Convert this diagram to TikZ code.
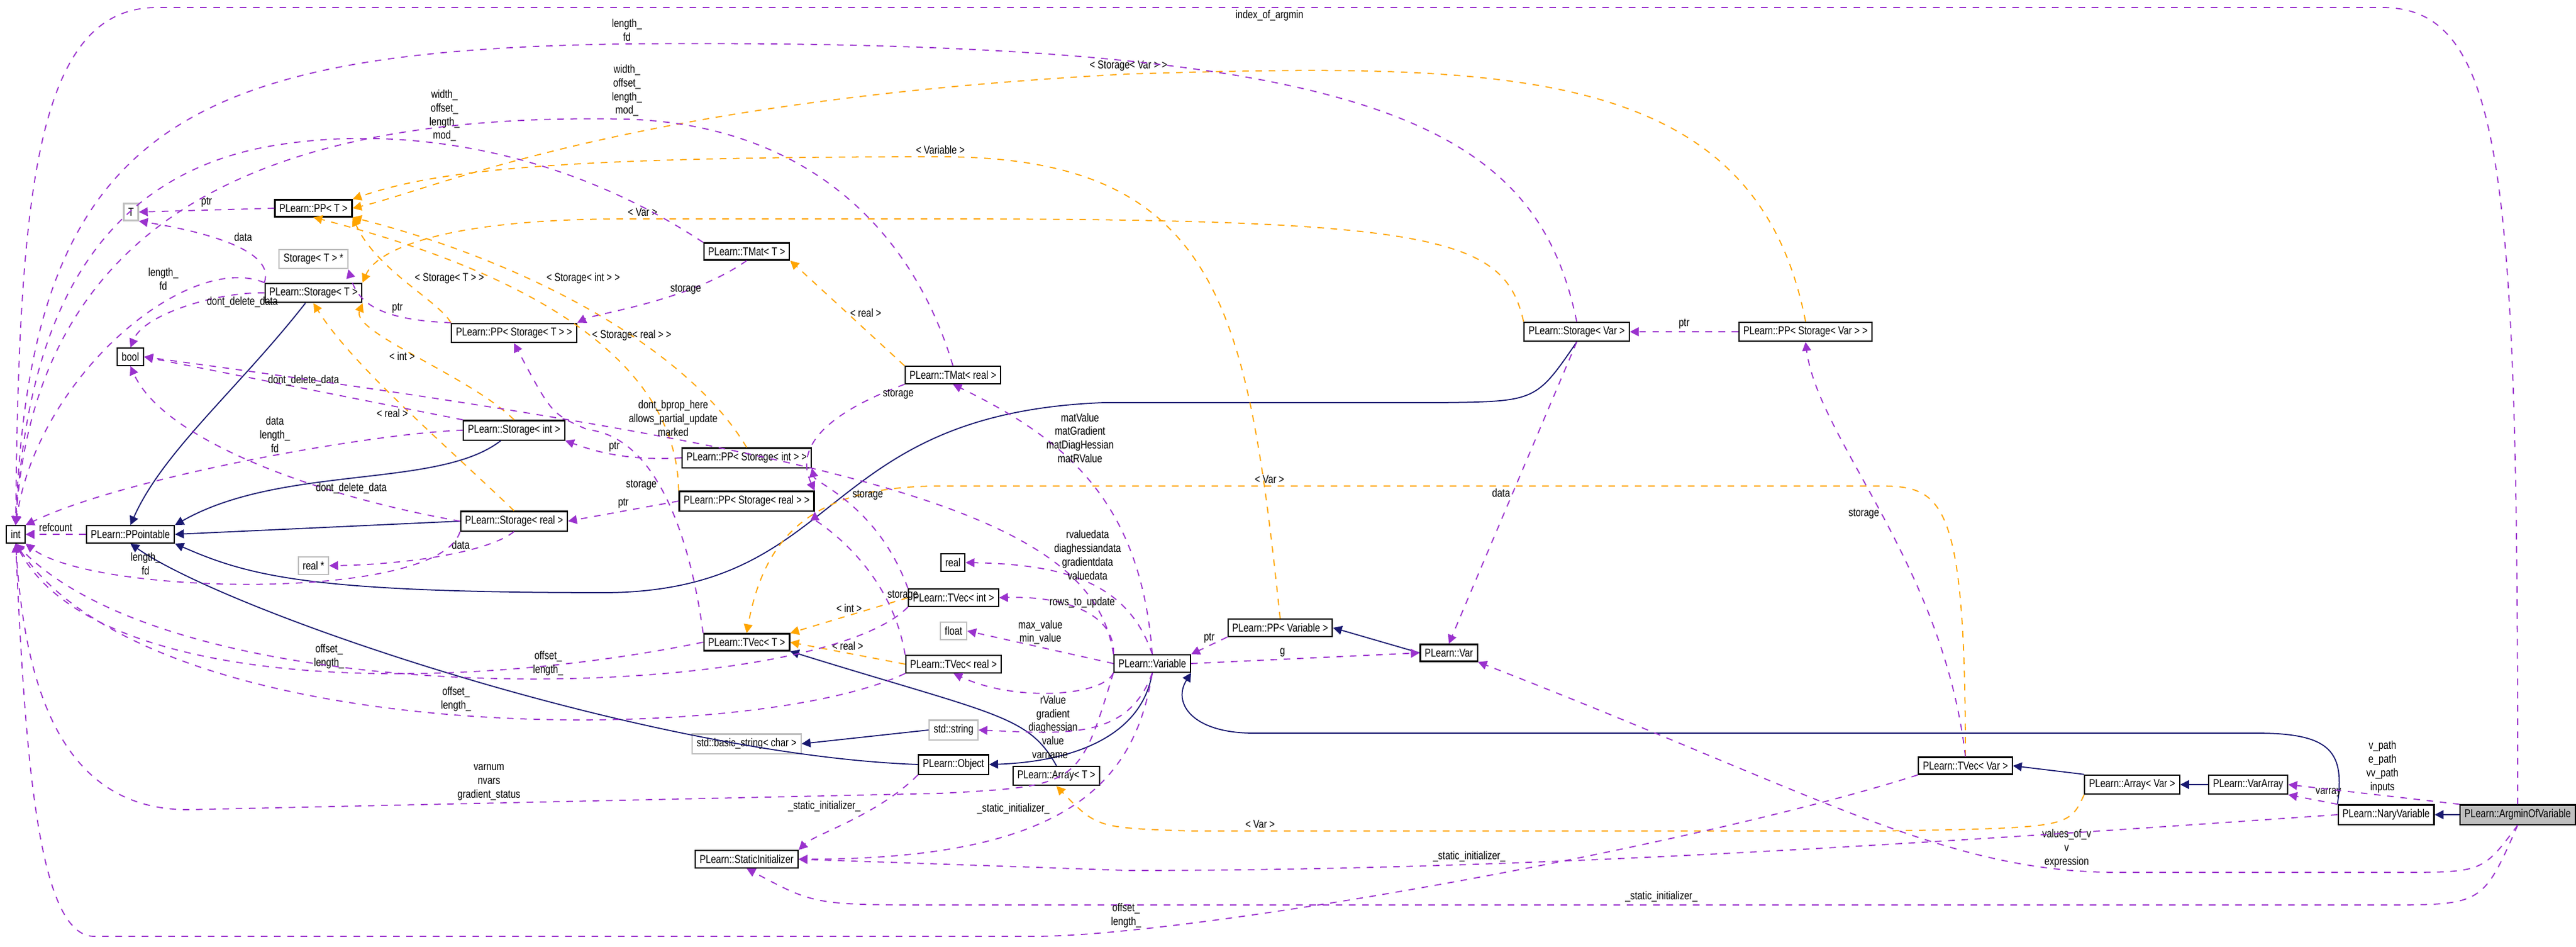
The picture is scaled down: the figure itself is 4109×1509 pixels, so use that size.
\documentclass[tikz,border=0pt]{standalone}
\usepackage{fontspec}
\newfontfamily\dotfont[FakeStretch=0.8]{Liberation Sans}
\usetikzlibrary{arrows.meta}
\definecolor{dxPurple}{RGB}{154,50,205}
\definecolor{dxOrange}{RGB}{255,165,0}
\definecolor{dxNavy}{RGB}{25,25,112}
\definecolor{dxGrey}{RGB}{191,191,191}
\tikzset{
  cls/.style={draw=black, line width=0.6pt, fill=white, inner sep=2pt, minimum height=0.27cm, font=\dotfont\fontsize{5.2}{6.2}\selectfont},
  ext/.style={cls, draw=dxGrey},
  mem/.style={draw=dxPurple, dashed, line width=0.5pt, -{Triangle[length=4pt,width=4pt]}},
  tpl/.style={draw=dxOrange, dashed, line width=0.5pt, -{Triangle[length=4pt,width=4pt]}},
  inh/.style={draw=dxNavy, line width=0.5pt, -{Triangle[length=4pt,width=4pt]}},
  lbl/.style={font=\dotfont\fontsize{5.2}{6.2}\selectfont, align=center, inner sep=1pt}
}
\begin{document}
\begin{tikzpicture}[x=0.01cm, y=-0.01cm]
  \useasboundingbox (0,0) rectangle (4109,1509);

  % classes
  \node[cls] (int) at (25,852) {int};
  \node[cls] (ppt) at (208,852) {PLearn::PPointable};
  \node[ext] (tT) at (209,338) {T};
  \node[cls] (ppT) at (500,332) {PLearn::PP< T >};
  \node[ext] (stTp) at (500,413) {Storage< T > *};
  \node[cls] (stT) at (500,467) {PLearn::Storage< T >};
  \node[cls] (bool) at (208,569) {bool};
  \node[cls] (stInt) at (820,686) {PLearn::Storage< int >};
  \node[cls] (stReal) at (820,831) {PLearn::Storage< real >};
  \node[ext] (realp) at (500,902) {real *};
  \node[cls] (tmT) at (1191,401) {PLearn::TMat< T >};
  \node[cls] (ppStT) at (820,531) {PLearn::PP< Storage< T > >};
  \node[cls] (ppStInt) at (1191,730) {PLearn::PP< Storage< int > >};
  \node[cls] (ppStReal) at (1191,799) {PLearn::PP< Storage< real > >};
  \node[cls] (tmReal) at (1520,598) {PLearn::TMat< real >};
  \node[cls] (real) at (1520,897) {real};
  \node[cls] (tvInt) at (1521,953) {PLearn::TVec< int >};
  \node[ext] (float) at (1521,1006) {float};
  \node[cls] (tvReal) at (1521,1059) {PLearn::TVec< real >};
  \node[cls] (tvT) at (1191,1024) {PLearn::TVec< T >};
  \node[cls] (var) at (1838,1058) {PLearn::Variable};
  \node[ext] (str) at (1521,1164) {std::string};
  \node[ext] (bstr) at (1191,1186) {std::basic\_string< char >};
  \node[cls] (obj) at (1521,1219) {PLearn::Object};
  \node[cls] (arrT) at (1685,1237) {PLearn::Array< T >};
  \node[cls] (sinit) at (1191,1370) {PLearn::StaticInitializer};
  \node[cls] (ppVar) at (2042,1001) {PLearn::PP< Variable >};
  \node[cls] (Var) at (2311,1041) {PLearn::Var};
  \node[cls] (stVar) at (2515,529) {PLearn::Storage< Var >};
  \node[cls] (ppStVar) at (2880,529) {PLearn::PP< Storage< Var > >};
  \node[cls] (tvVar) at (3135,1221) {PLearn::TVec< Var >};
  \node[cls] (arrVar) at (3401,1251) {PLearn::Array< Var >};
  \node[cls] (varArr) at (3586,1251) {PLearn::VarArray};
  \node[cls] (nary) at (3806,1299) {PLearn::NaryVariable};
  \node[cls, fill=dxGrey] (argmin) at (4016,1299) {PLearn::ArgminOfVariable};

  % inheritance
  \draw[inh] (stT) .. controls (380,620) and (260,720) .. (ppt.north);
  \draw[inh] (stInt) .. controls (700,780) and (450,740) .. (ppt.north east);
  \draw[inh] (stReal.west) -- (ppt.east);
  \draw[inh] (obj.west) .. controls (1030,1203) and (364,976) .. (ppt.south);
  \draw[inh] (stVar.south) .. controls (2450,640) .. (2300,642) -- (1760,642) .. controls (1300,660) and (1350,940) .. (970,945) .. controls (500,945) and (400,920) .. (ppt.south east);
  \draw[inh] (arrT.north) .. controls (1640,1140) and (1588,1140) .. (tvT.south east);
  \draw[inh] (str.west) -- (bstr.east);
  \draw[inh] (var.south) .. controls (1820,1180) and (1700,1215) .. (obj.east);
  \draw[inh] (Var.west) -- (ppVar.east);
  \draw[inh] (nary.north west) .. controls (3740,1200) and (3720,1169) .. (3600,1169) -- (2000,1169) .. controls (1900,1169) and (1870,1120) .. (var.south east);
  \draw[inh] (arrVar.north west) -- (tvVar.east);
  \draw[inh] (varArr.west) -- (arrVar.east);
  \draw[inh] (argmin.west) -- (nary.east);

  % template instances
  \draw[tpl] (ppStT.north west) .. controls (700,480) and (600,430) .. node[lbl,pos=0.45,above right] {< Storage< T > >} (ppT.south east);
  \draw[tpl] (ppStInt.north) .. controls (1100,560) and (850,420) .. node[lbl,pos=0.62,above right] {< Storage< int > >} (ppT.south east);
  \draw[tpl] (ppStReal.north west) .. controls (1080,600) and (900,450) .. node[lbl,pos=0.5,right] {< Storage< real > >} (ppT.south);
  \draw[tpl] (ppVar.north) .. controls (1990,500) and (1950,250) .. (1500,250) node[lbl,above] {< Variable >} .. controls (900,250) and (700,270) .. (ppT.north east);
  \draw[tpl] (stVar.north west) .. controls (2400,380) and (2300,349) .. (1500,349) -- (1000,349) node[lbl,pos=0.95,above] {< Var >} .. controls (700,349) and (600,400) .. (stT.north east);
  \draw[tpl] (ppStVar.north) .. controls (2800,100) and (2400,100) .. (1800,118) node[lbl,above] {< Storage< Var > >} .. controls (1000,160) and (700,300) .. (ppT.east);
  \draw[tpl] (stInt.north) .. controls (750,600) and (560,530) .. node[lbl,pos=0.5,left] {< int >} (stT.south east);
  \draw[tpl] (stReal.north) .. controls (700,700) and (560,580) .. node[lbl,pos=0.45,left] {< real >} (stT.south);
  \draw[tpl] (tmReal.north west) -- node[lbl,pos=0.5,right] {< real >} (tmT.south east);
  \draw[tpl] (tvInt.west) -- node[lbl,pos=0.5,above] {< int >} (tvT.north east);
  \draw[tpl] (tvReal.west) -- node[lbl,pos=0.5,above] {< real >} (tvT.east);
  \draw[tpl] (tvVar.north) .. controls (3135,800) and (3100,775) .. (3000,775) -- (1500,775) node[lbl,pos=0.65,above] {< Var >} .. controls (1300,775) and (1220,850) .. (tvT.north);
  \draw[tpl] (arrVar.south west) .. controls (3300,1320) .. (3000,1325) -- (1900,1325) node[lbl,pos=0.9,above] {< Var >} .. controls (1750,1320) .. (arrT.south);

  % members
  \draw[mem] (ppt.west) -- node[lbl,above] {refcount} (int.east);
  \draw[mem] (ppT.west) -- node[lbl,above] {ptr} (tT.east);
  \draw[mem] (stT.north west) .. controls (440,400) and (330,370) .. node[lbl,pos=0.5,above right] {data} (tT.south east);
  \draw[mem] (stT.north west) .. controls (300,400) and (60,600) .. node[lbl,pos=0.3,above left] {length\_\\fd} (int.north);
  \draw[mem] (stT.west) .. controls (350,465) and (230,500) .. node[lbl,pos=0.15,below] {dont\_delete\_data} (bool.north);
  \draw[mem] (ppStT.north west) .. controls (600,510) and (570,480) .. node[lbl,pos=0.3,above] {ptr} (stTp.south east);
  \draw[mem] (stInt.north west) -- node[lbl,pos=0.5,above] {dont\_delete\_data} (bool.east);
  \draw[mem] (stInt.west) .. controls (600,690) and (200,760) .. node[lbl,pos=0.45,above] {data\\length\_\\fd} (int.north east);
  \draw[mem] (stReal.west) .. controls (500,790) and (260,700) .. node[lbl,pos=0.25,above] {dont\_delete\_data} (bool.south);
  \draw[mem] (stReal.south) .. controls (780,880) and (650,900) .. node[lbl,pos=0.4,above] {data} (realp.east);
  \draw[mem] (stReal.south west) .. controls (700,960) and (150,950) .. node[lbl,pos=0.7,above] {length\_\\fd} (int.south east);
  \draw[mem] (ppStInt.west) .. controls (1000,735) and (950,720) .. node[lbl,above] {ptr} (stInt.south east);
  \draw[mem] (ppStReal.west) -- node[lbl,above] {ptr} (stReal.east);
  \draw[mem] (tmT.south) .. controls (1100,480) and (950,500) .. node[lbl,pos=0.4,above right] {storage} (ppStT.north east);
  \draw[mem] (tmT.north west) .. controls (900,240) and (650,200) .. node[lbl,pos=0.6,above] {width\_\\offset\_\\length\_\\mod\_} (450,230) .. controls (100,280) and (40,600) .. (int.north);
  \draw[mem] (tmReal.north) .. controls (1460,380) and (1300,200) .. (1000,190) node[lbl,above] {width\_\\offset\_\\length\_\\mod\_} .. controls (500,180) and (60,300) .. (int.north);
  \draw[mem] (stVar.north) .. controls (2450,200) and (2200,60) .. (1000,70) node[lbl,above] {length\_\\fd} .. controls (300,80) and (50,200) .. (int.north);
  \draw[mem] (tvT.north west) .. controls (1107,900) and (1062,698) .. node[lbl,pos=0.6,left] {storage} (937,685) .. controls (880,660) .. (ppStT.south);
  \draw[mem] (tmReal.south west) .. controls (1303,665) and (1270,720) .. node[lbl,pos=0.1,right] {storage} (ppStReal.north east);
  \draw[mem] (tvInt.north west) .. controls (1400,806) and (1300,770) .. node[lbl,pos=0.5,above right] {storage} (ppStInt.south east);
  \draw[mem] (tvReal.north west) .. controls (1420,900) and (1300,830) .. node[lbl,pos=0.25,right] {storage} (ppStReal.south east);
  \draw[mem] (tvT.west) .. controls (700,1110) and (150,1100) .. node[lbl,pos=0.45,above] {offset\_\\length\_} (int.south);
  \draw[mem] (tvInt.south west) .. controls (1300,1120) and (300,1150) .. node[lbl,pos=0.45,above] {offset\_\\length\_} (int.south);
  \draw[mem] (tvReal.south west) .. controls (1200,1190) and (250,1200) .. node[lbl,pos=0.5,above] {offset\_\\length\_} (int.south);
  \draw[mem] (var.south west) .. controls (1721,1253) .. (1500,1265) -- (300,1291) node[lbl,pos=0.6,above] {varnum\\nvars\\gradient\_status} .. controls (100,1291) and (40,1100) .. (int.south);
  \draw[mem] (var.north west) .. controls (1744,824) and (1400,727) .. node[lbl,pos=0.7,above] {dont\_bprop\_here\\allows\_partial\_update\\marked} (bool.east);
  \draw[mem] (var.north) .. controls (1820,800) and (1700,700) .. node[lbl,pos=0.7,right] {matValue\\matGradient\\matDiagHessian\\matRValue} (tmReal.south);
  \draw[mem] (var.north) .. controls (1800,930) and (1700,900) .. node[lbl,pos=0.5,above] {rvaluedata\\diaghessiandata\\gradientdata\\valuedata} (real.east);
  \draw[mem] (var.north west) .. controls (1780,980) and (1700,950) .. node[lbl,pos=0.5,above] {rows\_to\_update} (tvInt.east);
  \draw[mem] (var.west) -- node[lbl,pos=0.5,above] {max\_value\\min\_value} (float.east);
  \draw[mem] (var.south west) .. controls (1760,1110) and (1620,1120) .. node[lbl,pos=0.5,below] {rValue\\gradient\\diaghessian\\value} (tvReal.south);
  \draw[mem] (var.south) .. controls (1800,1180) and (1700,1170) .. node[lbl,pos=0.7,below=8pt] {varname} (str.east);
  \draw[mem] (var.south) .. controls (1810,1250) and (1700,1370) .. node[lbl,pos=0.55,above left] {\_static\_initializer\_} (sinit.east);
  \draw[mem] (obj.south west) .. controls (1400,1300) and (1300,1330) .. node[lbl,pos=0.4,above left] {\_static\_initializer\_} (sinit.north east);
  \draw[mem] (ppVar.south west) -- node[lbl,pos=0.5,above] {ptr} (var.north east);
  \draw[mem] (var.east) -- node[lbl,pos=0.4,above] {g} (Var.west);
  \draw[mem] (ppStVar.west) -- node[lbl,above] {ptr} (stVar.east);
  \draw[mem] (tvVar.north) .. controls (3100,900) and (2900,700) .. node[lbl,pos=0.5,left] {storage} (ppStVar.south);
  \draw[mem] (stVar.south) -- node[lbl,pos=0.5,left] {data} (Var.north);
  \draw[mem] (nary.north west) -- node[lbl,pos=0.5,above right] {varray} (varArr.south east);
  \draw[mem] (argmin.north west) -- node[lbl,pos=0.45,above] {v\_path\\e\_path\\vv\_path\\inputs} (varArr.east);
  \draw[mem] (argmin.south) .. controls (3960,1391) .. (3825,1391) -- (3378,1391) .. controls (3100,1391) and (2900,1266) .. node[lbl,pos=0.1,above] {values\_of\_v\\v\\expression} (Var.south east);
  \draw[mem] (nary.west) .. controls (3000,1350) and (2400,1388) .. node[lbl,pos=0.7,above] {\_static\_initializer\_} (1800,1388) -- (sinit.east);
  \draw[mem] (argmin.south) .. controls (3960,1443) .. (3800,1443) -- (1500,1443) node[lbl,pos=0.5,above] {\_static\_initializer\_} .. controls (1300,1443) .. (sinit.south);
  \draw[mem] (tvVar.south west) .. controls (2700,1350) and (1900,1493) .. node[lbl,pos=0.85,above] {offset\_\\length\_} (1650,1493) -- (150,1493) .. controls (60,1493) and (40,1200) .. (int.south);
  \draw[mem] (argmin.north) .. controls (4016,300) and (4000,12) .. (3800,12) -- (250,12) node[lbl,pos=0.5,below] {index\_of\_argmin} .. controls (60,12) and (30,300) .. (int.north);
\end{tikzpicture}
\end{document}
